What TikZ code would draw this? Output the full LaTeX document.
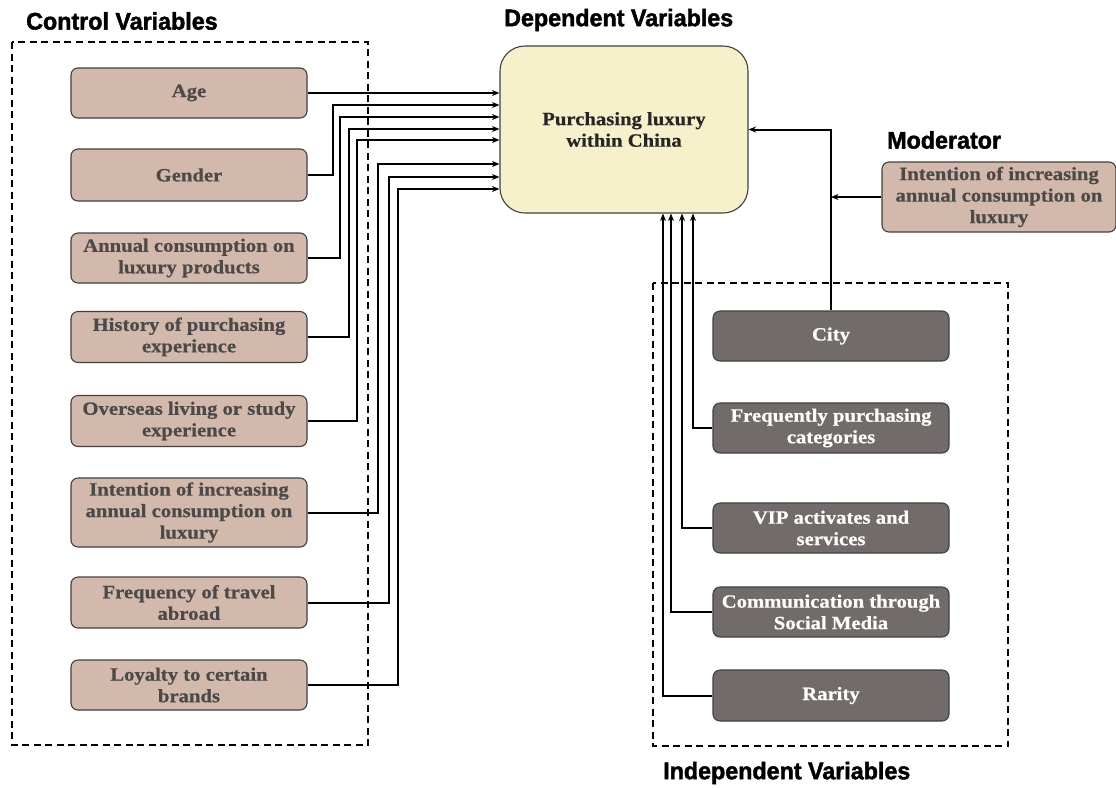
\documentclass[tikz,border=0pt]{standalone}
\usepackage{fontspec}
\usetikzlibrary{arrows.meta,calc}
\newfontfamily\boxfont{Liberation Serif}[FakeStretch=1.1,FakeBold=0.6]
\newfontfamily\titlefont{Liberation Sans}[FakeStretch=0.97,FakeBold=1.8]
\definecolor{brownbox}{HTML}{D3B9AB}
\definecolor{graybox}{HTML}{716C6A}
\definecolor{mainbox}{HTML}{F7F1CB}
\definecolor{boxline}{HTML}{404040}
\definecolor{boxtext}{HTML}{4A4A4A}
\tikzset{
  basebox/.style={draw=boxline, line width=1.1pt, rounded corners=7pt, minimum width=236pt, align=center, inner sep=2pt,
    font=\boxfont\bfseries\fontsize{18.8}{21.5}\selectfont},
  ctrlbox/.style={basebox, fill=brownbox, text=boxtext},
  indbox/.style={basebox, fill=graybox, text=white},
  arr/.style={line width=2pt, -{Stealth[length=7.5pt,width=6pt]}},
  grouprect/.style={line width=1.6pt, dash pattern=on 7pt off 4.5pt},
  titletext/.style={anchor=west, inner sep=0pt, font=\titlefont\bfseries\fontsize{24}{26}\selectfont}
}
\begin{document}
\begin{tikzpicture}[x=1pt,y=-1pt]
\useasboundingbox (0,0) rectangle (1116,788);

% group frames
\draw[grouprect] (12,42) rectangle (368,745);
\draw[grouprect] (653,283) rectangle (1008,746);

% titles
\node[titletext] (tctrl) at (26,21) {Control Variables};
\node[titletext] (tdep) at (504,20) {Dependent Variables};
\node[titletext] (tmod) at (887,140) {Moderator};
\node[titletext] (tind) at (663,773) {Independent Variables};

% dependent
\node[draw=boxline, line width=1.1pt, fill=mainbox, rounded corners=25pt, minimum width=248pt, minimum height=167pt,
  align=center, font=\boxfont\bfseries\fontsize{18.8}{21.5}\selectfont, text=black!85] (main) at (624,129.5)
  {Purchasing luxury\\within China};

% control boxes
\node[ctrlbox, minimum height=50pt] (age) at (189,93) {Age};
\node[ctrlbox, minimum height=52pt] (gender) at (189,175) {Gender};
\node[ctrlbox, minimum height=50pt] (annual) at (189,258) {Annual consumption on\\luxury products};
\node[ctrlbox, minimum height=51pt] (history) at (189,337) {History of purchasing\\experience};
\node[ctrlbox, minimum height=51pt] (overseas) at (189,421) {Overseas living or study\\experience};
\node[ctrlbox, minimum height=69pt] (intention) at (189,512.5) {Intention of increasing\\annual consumption on\\luxury};
\node[ctrlbox, minimum height=51pt] (travel) at (189,602.5) {Frequency of travel\\abroad};
\node[ctrlbox, minimum height=50pt] (loyalty) at (189,685) {Loyalty to certain\\brands};

% moderator
\node[ctrlbox, minimum width=234pt, minimum height=70pt] (mod) at (999,197) {Intention of increasing\\annual consumption on\\luxury};

% independent boxes
\node[indbox, minimum height=50pt] (city) at (831,336) {City};
\node[indbox, minimum height=50pt] (categ) at (831,428) {Frequently purchasing\\categories};
\node[indbox, minimum height=50pt] (vip) at (831,528) {VIP activates and\\services};
\node[indbox, minimum height=50pt] (comm) at (831,612) {Communication through\\Social Media};
\node[indbox, minimum height=51pt] (rarity) at (831,695.5) {Rarity};

% control connectors
\draw[arr] (age.east) -- (age.east -| main.west);
\draw[arr] (gender.east) -- ++(25,0) |- ($(main.west)+(0,-24.5)$);
\draw[arr] (annual.east) -- ++(32,0) |- ($(main.west)+(0,-12.5)$);
\draw[arr] (history.east) -- ++(41,0) |- ($(main.west)+(0,-0.5)$);
\draw[arr] (overseas.east) -- ++(49,0) |- ($(main.west)+(0,10.5)$);
\draw[arr] (intention.east) -- ++(70,0) |- ($(main.west)+(0,34.5)$);
\draw[arr] (travel.east) -- ++(81,0) |- ($(main.west)+(0,47.5)$);
\draw[arr] (loyalty.east) -- ++(90,0) |- ($(main.west)+(0,59.5)$);

% independent connectors
\draw[arr] (city.north) |- (main.east);
\draw[arr] (mod.west) -- (mod.west -| city.north);
\draw[arr] (categ.west) -| ($(main.south)+(69,0)$);
\draw[arr] (vip.west) -| ($(main.south)+(58,0)$);
\draw[arr] (comm.west) -| ($(main.south)+(47,0)$);
\draw[arr] (rarity.west) -| ($(main.south)+(39,0)$);
\end{tikzpicture}
\end{document}
